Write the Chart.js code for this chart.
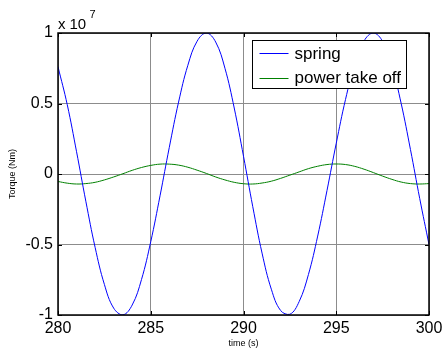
<!DOCTYPE html>
<html><head><meta charset="utf-8">
<script src="https://cdn.jsdelivr.net/npm/chart.js@4.4.0/dist/chart.umd.min.js"></script>
<style>html,body{margin:0;padding:0;background:#fff;}#wrap{position:relative;width:443px;height:349px;}</style>
</head><body><div id="wrap"><canvas id="c" width="443" height="349"></canvas></div>
<script>
// time (s)
const time = [280,280.5,281,281.5,282,282.5,283,283.5,284,284.5,285,285.5,286,286.5,287,287.5,288,288.5,289,289.5,290,290.5,291,291.5,292,292.5,293,293.5,294,294.5,295,295.5,296,296.5,297,297.5,298,298.5,299,299.5,300];
// torque, in units of 1e7 Nm
const spring = [0.761,0.491,0.158,-0.193,-0.520,-0.783,-0.951,-0.999,-0.929,-0.749,-0.480,-0.155,0.189,0.510,0.771,0.942,1.000,0.936,0.750,0.468,0.126,-0.232,-0.561,-0.817,-0.968,-0.995,-0.905,-0.713,-0.440,-0.118,0.218,0.529,0.779,0.944,1.000,0.940,0.766,0.500,0.174,-0.174,-0.500];
const powerTakeOff = [-0.053,-0.065,-0.071,-0.068,-0.059,-0.042,-0.021,0.002,0.026,0.046,0.061,0.070,0.070,0.063,0.048,0.027,0.004,-0.021,-0.042,-0.059,-0.069,-0.071,-0.064,-0.051,-0.031,-0.008,0.015,0.038,0.055,0.067,0.071,0.067,0.054,0.034,0.010,-0.015,-0.038,-0.057,-0.068,-0.071,-0.068];
const seriesNames = ['spring','power take off'];
const seriesColors = ['#0000ff','#008000'];
const xTicks = [280,285,290,295,300];
const yTicks = [-1,-0.5,0,0.5,1];
const yExponent = '7';
const xTitle = 'time (s)';
const yTitle = 'Torque (Nm)';

const FONT = "'Liberation Sans', Arial, Helvetica, sans-serif";

function toXY(xs, ys){ return xs.map((v,i)=>({x:v,y:ys[i]})); }

const decor = {
  id:'decor',
  afterDatasetsDraw(chart){
    const {ctx, chartArea:a, scales:{x,y}} = chart;
    ctx.save();
    ctx.strokeStyle='#000'; ctx.lineWidth=1;
    const seg=(x1,y1,x2,y2)=>{ctx.beginPath();ctx.moveTo(x1,y1);ctx.lineTo(x2,y2);ctx.stroke();};
    xTicks.forEach(v=>{const p=Math.round(x.getPixelForValue(v))+0.5; seg(p,a.bottom,p,a.bottom-4); seg(p,a.top,p,a.top+4);});
    yTicks.forEach(v=>{const p=Math.round(y.getPixelForValue(v))+0.5; seg(a.left,p,a.left+4,p); seg(a.right,p,a.right-4,p);});
    ctx.lineWidth=1.5;
    ctx.strokeRect(a.left,a.top,a.right-a.left,a.bottom-a.top);
    // legend
    ctx.font = "17px "+FONT;
    const tw = Math.max(...seriesNames.map(s=>ctx.measureText(s).width));
    const lineLen=29, padL=7, gap=6, padR=6;
    const w = Math.round(padL+lineLen+gap+tw+padR), h=48;
    const lx = Math.round(a.right-23-w)+0.5, ly = Math.round(a.top+7)+0.5;
    ctx.fillStyle='#fff'; ctx.fillRect(lx,ly,w,h);
    ctx.lineWidth=1; ctx.strokeStyle='#000'; ctx.strokeRect(lx,ly,w,h);
    const rows=[ly+12.5, ly+37];
    seriesNames.forEach((s,i)=>{
      ctx.strokeStyle=seriesColors[i]; ctx.lineWidth=1;
      seg(lx+padL, Math.round(rows[i])+0.5, lx+padL+lineLen, Math.round(rows[i])+0.5);
      ctx.fillStyle='#000'; ctx.textBaseline='middle'; ctx.textAlign='left';
      ctx.fillText(s, lx+padL+lineLen+gap, rows[i]+1);
    });
    // exponent label
    ctx.fillStyle='#000'; ctx.textBaseline='alphabetic'; ctx.textAlign='left';
    ctx.font="15px "+FONT;
    ctx.fillText('x', a.left, a.top-4);
    ctx.fillText('10', a.left+11.5, a.top-4);
    ctx.font="11px "+FONT;
    ctx.fillText(yExponent, a.left+31.5, a.top-15);
    ctx.restore();
  }
};

new Chart(document.getElementById('c'), {
  type:'line',
  data:{datasets:[
    {label:seriesNames[0], data:toXY(time,spring), borderColor:seriesColors[0], borderWidth:1, pointRadius:0, tension:0.4, fill:false},
    {label:seriesNames[1], data:toXY(time,powerTakeOff), borderColor:seriesColors[1], borderWidth:1, pointRadius:0, tension:0.4, fill:false}
  ]},
  options:{
    responsive:false, animation:false, devicePixelRatio:1,
    layout:{padding:{top:33,right:14,left:0,bottom:0}},
    plugins:{legend:{display:false}, tooltip:{enabled:false}},
    scales:{
      x:{type:'linear', min:280, max:300,
        afterBuildTicks:s=>{s.ticks=xTicks.map(v=>({value:v}));},
        afterFit:s=>{s.height=34; s.paddingLeft=0; s.paddingRight=0;},
        ticks:{font:{family:FONT,size:16}, color:'#000', padding:4, maxRotation:0, autoSkip:false},
        grid:{color:'#8c8c8c', drawTicks:false, lineWidth:1},
        border:{display:false},
        title:{display:true, text:xTitle, font:{family:FONT,size:9}, color:'#000', padding:{top:0,bottom:0}}
      },
      y:{type:'linear', min:-1, max:1,
        afterBuildTicks:s=>{s.ticks=yTicks.map(v=>({value:v}));},
        afterFit:s=>{s.width=58; s.paddingTop=0; s.paddingBottom=0;},
        ticks:{font:{family:FONT,size:16}, color:'#000', padding:5, callback:v=>String(v)},
        grid:{color:'#8c8c8c', drawTicks:false, lineWidth:1},
        border:{display:false},
        title:{display:true, text:yTitle, font:{family:FONT,size:9}, color:'#000', padding:{top:7,bottom:0}}
      }
    }
  },
  plugins:[decor]
});
</script></body></html>
